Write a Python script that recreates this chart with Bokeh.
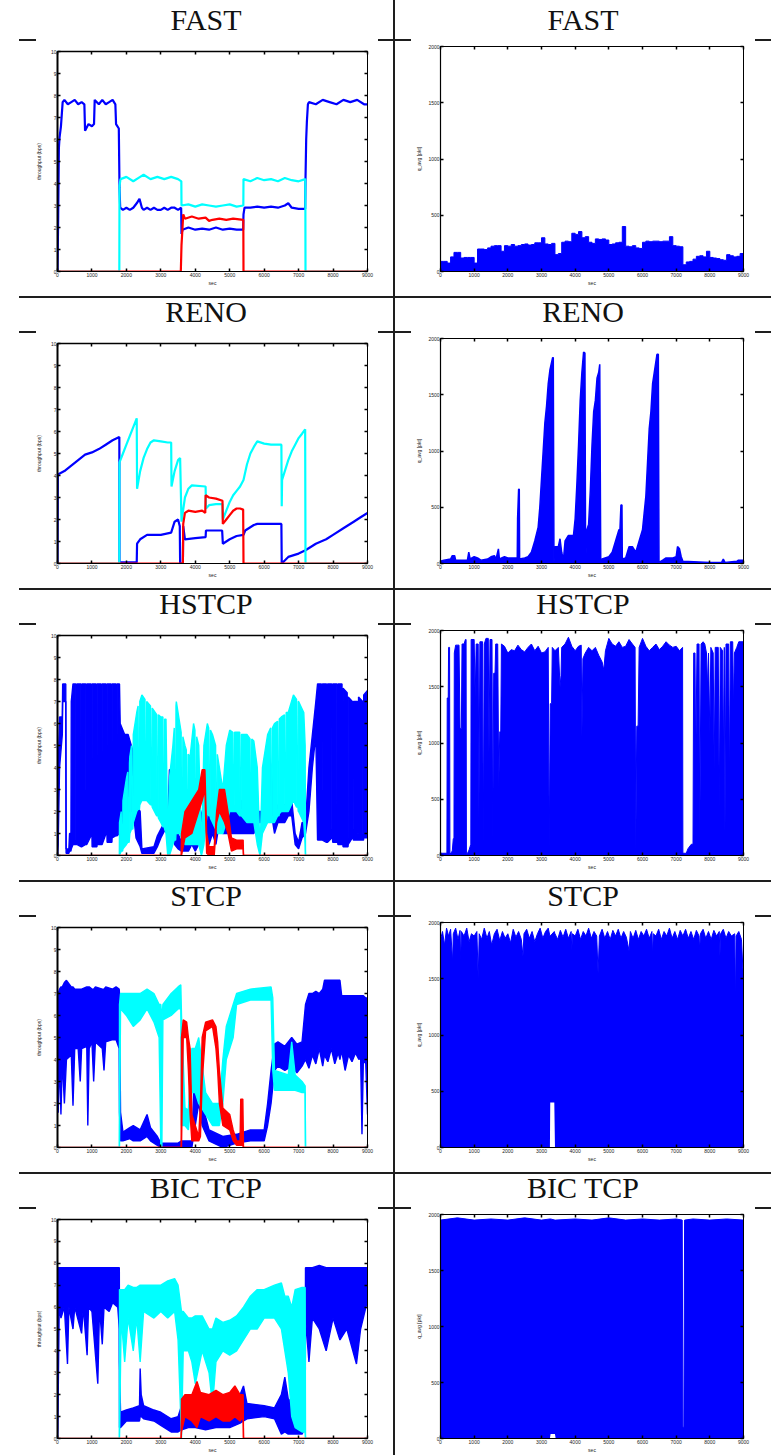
from bokeh.plotting import figure
from bokeh.layouts import row, column
from bokeh.models import Div, Spacer, LinearAxis, Range1d, FixedTicker, Label
from bokeh.embed import file_html
from bokeh.resources import INLINE

# ---------------- labels / ticks ----------------
TITLES = ["FAST", "RENO", "HSTCP", "STCP", "BIC TCP"]
X_TICKS = [0, 1000, 2000, 3000, 4000, 5000, 6000, 7000, 8000, 9000]
THR_TICKS = [0, 1, 2, 3, 4, 5, 6, 7, 8, 9, 10]
Q_TICKS = [0, 500, 1000, 1500, 2000]
THR_YLABEL = "throughput (bps)"
Q_YLABEL = "q_avg [pkt]"
X_LABEL = "sec"
THR_SCALE = "x 10\u2078"

# ---------------- FAST (t, value) ----------------
FAST_BLUE = [(0, 0.0), (20, 2.5), (40, 5.6), (60, 6.1), (100, 6.6), (150, 7.7), (200, 7.8), (300, 7.6), (400, 7.7),
             (500, 7.8), (600, 7.6), (700, 7.7), (780, 7.6), (800, 6.4), (900, 6.7), (1000, 6.6), (1060, 6.7),
             (1080, 7.8), (1200, 7.6), (1300, 7.8), (1400, 7.6), (1500, 7.7), (1600, 7.8), (1680, 7.6), (1700, 6.7),
             (1780, 6.5), (1800, 3.8), (1820, 2.9), (1900, 2.8), (2000, 2.9), (2100, 2.8), (2200, 2.9), (2300, 3.1),
             (2380, 3.3), (2450, 2.9), (2500, 2.8), (2600, 2.9), (2700, 2.8), (2800, 2.9), (2900, 2.8), (3000, 2.8),
             (3100, 2.9), (3200, 2.8), (3300, 2.9), (3400, 2.9), (3500, 2.8), (3590, 2.9), (3600, 1.7), (3630, 1.9),
             (3800, 2.0), (4000, 1.9), (4200, 1.95), (4400, 1.9), (4600, 2.0), (4800, 1.9), (5000, 1.95), (5200, 1.9),
             (5390, 1.9), (5400, 2.6), (5430, 2.9), (5600, 2.9), (5800, 2.95), (6000, 2.9), (6200, 2.95), (6400, 2.9),
             (6600, 3.0), (6700, 3.1), (6800, 2.9), (7000, 2.85), (7190, 2.85), (7200, 4.2), (7220, 6.0), (7240, 6.8),
             (7270, 7.6), (7300, 7.7), (7500, 7.6), (7700, 7.8), (7900, 7.7), (8100, 7.6), (8300, 7.8), (8500, 7.7),
             (8700, 7.8), (8900, 7.6), (9000, 7.6)]
FAST_CYAN = [(0, 0), (1795, 0), (1800, 3.9), (1830, 4.2), (2000, 4.3), (2200, 4.1), (2400, 4.3), (2500, 4.4),
             (2700, 4.2), (2900, 4.3), (3100, 4.2), (3300, 4.3), (3500, 4.2), (3595, 4.1), (3600, 3.0), (3800, 3.05),
             (4000, 2.95), (4200, 3.05), (4400, 3.0), (4600, 2.95), (4800, 3.0), (5000, 3.05), (5200, 2.95),
             (5395, 3.0), (5400, 4.2), (5600, 4.1), (5800, 4.25), (6000, 4.15), (6200, 4.2), (6400, 4.1), (6600, 4.25),
             (6800, 4.15), (7000, 4.1), (7195, 4.2), (7200, 0), (9000, 0)]
FAST_RED = [(0, 0), (3580, 0), (3600, 1.2), (3630, 2.0), (3650, 2.6), (3700, 2.4), (3900, 2.5), (4100, 2.4),
            (4300, 2.45), (4400, 2.3), (4500, 2.35), (4700, 2.4), (4900, 2.35), (5100, 2.4), (5395, 2.35), (5400, 0),
            (9000, 0)]
FAST_Q = [(0, 90), (100, 90), (200, 75), (300, 130), (400, 170), (500, 170), (600, 120), (700, 125), (800, 125),
          (900, 125), (1000, 75), (1100, 200), (1200, 200), (1300, 195), (1400, 210), (1500, 225), (1600, 230),
          (1700, 230), (1800, 180), (1900, 230), (2000, 225), (2100, 240), (2200, 225), (2300, 230), (2400, 240),
          (2500, 245), (2600, 235), (2700, 240), (2800, 255), (2900, 255), (3000, 300), (3100, 245), (3200, 240),
          (3300, 250), (3400, 150), (3500, 160), (3600, 260), (3700, 270), (3800, 265), (3900, 340), (4000, 330),
          (4100, 355), (4200, 300), (4300, 310), (4400, 260), (4500, 250), (4600, 290), (4700, 285), (4800, 290),
          (4900, 280), (5000, 240), (5100, 245), (5200, 255), (5300, 260), (5400, 400), (5500, 225), (5600, 220),
          (5700, 230), (5800, 210), (5900, 205), (6000, 260), (6100, 270), (6200, 265), (6300, 270), (6400, 270),
          (6500, 265), (6600, 270), (6700, 270), (6800, 310), (6900, 230), (7000, 225), (7100, 220), (7200, 60),
          (7300, 85), (7400, 90), (7500, 110), (7600, 135), (7700, 140), (7800, 130), (7900, 180), (8000, 125),
          (8100, 120), (8200, 115), (8300, 105), (8400, 100), (8500, 150), (8600, 140), (8700, 130), (8800, 135),
          (8900, 160), (9000, 140)]

# ---------------- RENO (t, value) ----------------
RENO_BLUE = [(0, 0), (10, 4.05), (200, 4.2), (400, 4.45), (600, 4.7), (800, 4.95), (1000, 5.05), (1200, 5.2),
             (1400, 5.4), (1600, 5.6), (1795, 5.75), (1800, 0.05), (2300, 0.05), (2310, 0.9), (2400, 1.1),
             (2600, 1.3), (3000, 1.3), (3300, 1.4), (3400, 1.9), (3500, 2.0), (3550, 1.7), (3560, 0.0), (3640, 0.0),
             (3650, 1.7), (3700, 1.1), (4000, 1.15), (4300, 1.2), (4310, 1.5), (4780, 1.5), (4800, 0.9), (5000, 1.1),
             (5200, 1.25), (5400, 1.3), (5450, 1.5), (5700, 1.75), (5800, 1.8), (6500, 1.8), (6510, 0.0), (6700, 0.3),
             (7000, 0.45), (7200, 0.6), (7500, 0.9), (7800, 1.1), (8000, 1.3), (8300, 1.6), (8600, 1.9), (8800, 2.1),
             (9000, 2.3)]
RENO_CYAN = [(0, 0), (1795, 0), (1800, 4.6), (1900, 5.0), (2000, 5.4), (2100, 5.8), (2200, 6.2), (2300, 6.6),
             (2310, 3.4), (2400, 4.2), (2500, 4.8), (2600, 5.2), (2700, 5.5), (2800, 5.6), (3000, 5.55), (3200, 5.5),
             (3300, 5.5), (3310, 3.5), (3400, 4.2), (3500, 4.7), (3560, 4.8), (3600, 1.9), (3700, 3.0), (3800, 3.4),
             (3900, 3.55), (4300, 3.5), (4310, 2.5), (4400, 2.65), (4600, 2.7), (4790, 2.7), (4800, 2.0), (4900, 2.4),
             (5000, 2.8), (5100, 3.1), (5200, 3.3), (5300, 3.5), (5400, 3.8), (5500, 4.5), (5600, 5.0), (5700, 5.3),
             (5800, 5.55), (6000, 5.45), (6200, 5.4), (6500, 5.4), (6510, 2.6), (6520, 3.8), (6600, 4.2), (6700, 4.7),
             (6800, 5.1), (6900, 5.4), (7000, 5.7), (7100, 5.9), (7190, 6.1), (7200, 0), (9000, 0)]
RENO_RED = [(0, 0), (3640, 0), (3650, 1.8), (3700, 2.3), (3800, 2.4), (4000, 2.35), (4200, 2.4), (4290, 2.3),
            (4300, 3.1), (4400, 3.0), (4600, 2.95), (4790, 2.85), (4800, 1.8), (4900, 2.0), (5000, 2.2), (5100, 2.4),
            (5200, 2.5), (5300, 2.5), (5390, 2.45), (5400, 0), (9000, 0)]
RENO_Q = [(0, 20), (100, 30), (300, 40), (350, 70), (420, 70), (450, 30), (800, 30), (840, 100), (880, 40), (1000, 60),
          (1100, 50), (1200, 30), (1400, 40), (1500, 60), (1600, 70), (1650, 40), (1720, 130), (1750, 40), (1900, 60),
          (2000, 50), (2280, 50), (2290, 400), (2320, 660), (2340, 660), (2350, 40), (2500, 50), (2600, 60),
          (2700, 100), (2800, 200), (2900, 320), (2950, 500), (3000, 750), (3050, 1000), (3100, 1250), (3150, 1400),
          (3200, 1600), (3250, 1720), (3330, 1830), (3350, 1830), (3370, 10), (3400, 150), (3500, 150), (3550, 220),
          (3600, 100), (3650, 30), (3700, 200), (3800, 250), (3950, 250), (4000, 400), (4050, 700), (4100, 1050),
          (4150, 1450), (4200, 1700), (4250, 1880), (4290, 1870), (4310, 0), (4350, 300), (4400, 350), (4450, 650),
          (4500, 1050), (4550, 1350), (4600, 1450), (4650, 1650), (4700, 1700), (4730, 1770), (4760, 0), (4800, 40),
          (5000, 60), (5100, 100), (5200, 200), (5300, 300), (5330, 300), (5360, 520), (5390, 520), (5400, 40),
          (5500, 50), (5600, 150), (5700, 150), (5800, 100), (5900, 200), (6000, 300), (6050, 450), (6100, 600),
          (6150, 900), (6200, 1200), (6250, 1350), (6300, 1600), (6350, 1700), (6430, 1860), (6470, 1860),
          (6490, 10), (6600, 30), (6700, 50), (6900, 50), (7000, 60), (7040, 150), (7100, 130), (7150, 60),
          (7200, 20), (8000, 10), (8350, 10), (8400, 40), (8450, 10), (8800, 20), (8850, 30), (9000, 30)]

# ---------------- HSTCP (t, low, high) ----------------
HSTCP_BLUE = [(0, 0, 0), (20, 0.5, 4.0), (60, 4.0, 6.3), (140, 5.5, 6.3), (150, 7.0, 7.8), (240, 7.0, 7.8),
              (250, 0.1, 0.3), (330, 0.1, 0.3), (350, 0.2, 1.0), (390, 0.2, 1.0), (400, 0.3, 7.0), (450, 0.5, 7.8),
              (530, 0.5, 7.8), (535, 0.5, 0.7), (555, 0.5, 0.7), (560, 0.5, 7.8), (680, 0.4, 7.8), (685, 0.4, 0.6),
              (705, 0.4, 0.6), (710, 0.4, 7.8), (820, 0.5, 7.8), (825, 0.5, 3.0), (845, 0.5, 3.0), (850, 0.5, 7.8),
              (975, 0.9, 7.8), (980, 0.9, 1.1), (1000, 0.9, 1.1), (1005, 0.4, 7.8), (1120, 0.4, 7.8),
              (1125, 0.4, 0.6), (1145, 0.4, 0.6), (1150, 0.5, 7.8), (1265, 0.5, 7.8), (1270, 0.5, 0.7),
              (1290, 0.5, 0.7), (1295, 0.5, 7.8), (1410, 1.0, 7.8), (1415, 1.0, 1.2), (1435, 1.0, 1.2),
              (1440, 0.6, 7.8), (1555, 0.6, 7.8), (1560, 0.6, 0.8), (1580, 0.6, 0.8), (1585, 0.8, 7.8),
              (1700, 0.9, 7.8), (1705, 0.9, 1.1), (1725, 0.9, 1.1), (1730, 0.9, 7.8), (1800, 1.0, 7.8),
              (1820, 1.0, 6.0), (1950, 1.5, 5.5), (2050, 2.0, 5.5), (2200, 2.0, 4.7), (2280, 0.8, 2.4),
              (2400, 0.4, 2.0), (2450, 0.1, 0.3), (2800, 0.1, 0.4), (2900, 0.4, 0.9), (3000, 0.8, 1.2),
              (3100, 1.1, 1.5), (3200, 1.2, 1.6), (3250, 2.5, 3.9), (3350, 2.5, 3.9), (3400, 0.5, 3.0),
              (3500, 0.3, 1.0), (3600, 0.2, 0.6), (3800, 0.2, 0.6), (3900, 0.5, 1.0), (4000, 0.2, 0.8),
              (4100, 0.5, 1.5), (4200, 1.0, 2.0), (4300, 1.5, 2.5), (4400, 0.5, 2.0), (4500, 1.0, 2.5),
              (4600, 0.5, 2.0), (4700, 1.5, 3.3), (4800, 1.0, 3.0), (4900, 1.0, 2.0), (5200, 1.0, 2.0),
              (5300, 1.0, 2.5), (5700, 1.0, 2.3), (5800, 1.5, 2.0), (6000, 1.5, 2.0), (6050, 4.0, 4.6),
              (6150, 3.0, 4.6), (6200, 2.0, 4.0), (6300, 1.0, 2.0), (6400, 1.5, 2.3), (6600, 1.5, 2.3),
              (6700, 1.8, 2.5), (6800, 1.8, 2.5), (6900, 0.5, 1.0), (7000, 0.3, 0.6), (7100, 0.8, 1.5),
              (7200, 1.0, 1.5), (7300, 2.0, 4.0), (7400, 4.0, 5.5), (7500, 5.5, 7.0), (7550, 0.7, 7.8),
              (7660, 0.7, 7.8), (7665, 0.7, 3.0), (7685, 0.7, 3.0), (7690, 0.7, 7.8), (7810, 0.6, 7.8),
              (7815, 0.6, 0.9), (7835, 0.6, 0.9), (7840, 0.6, 7.8), (7960, 0.8, 7.8), (7965, 0.8, 1.2),
              (7985, 0.8, 1.2), (7990, 0.6, 7.8), (8110, 0.6, 7.8), (8115, 0.6, 0.8), (8135, 0.6, 0.8),
              (8140, 0.5, 7.8), (8260, 0.5, 7.8), (8265, 0.5, 0.9), (8285, 0.5, 0.9), (8290, 0.4, 7.6),
              (8410, 0.4, 7.4), (8415, 0.4, 0.8), (8435, 0.4, 0.8), (8440, 0.5, 7.2), (8560, 0.8, 7.0),
              (8565, 0.8, 1.2), (8585, 0.8, 1.2), (8590, 0.7, 7.0), (8710, 0.7, 7.0), (8715, 0.7, 1.0),
              (8735, 0.7, 1.0), (8740, 0.7, 7.2), (8860, 0.7, 7.0), (8865, 0.7, 1.0), (8885, 0.7, 1.0),
              (8890, 0.8, 7.3), (9000, 0.8, 7.5)]
HSTCP_CYAN = [(0, 0, 0), (1795, 0, 0), (1800, 0, 1.5), (1850, 0.2, 2.0), (1860, 0.2, 0.4), (1890, 0.2, 0.4),
              (1900, 0.3, 2.5), (2000, 0.5, 3.5), (2040, 0.6, 3.8), (2050, 0.6, 0.9), (2080, 0.6, 0.9),
              (2090, 0.8, 4.2), (2100, 1.0, 4.5), (2150, 1.2, 5.0), (2160, 1.2, 1.5), (2190, 1.2, 1.5),
              (2200, 1.5, 5.5), (2300, 2.0, 6.5), (2340, 2.1, 6.8), (2350, 2.1, 2.4), (2380, 2.1, 2.4),
              (2390, 2.3, 7.0), (2450, 2.5, 7.3), (2540, 2.5, 7.1), (2550, 2.5, 2.8), (2580, 2.5, 2.8),
              (2590, 2.5, 7.0), (2700, 2.3, 6.8), (2710, 2.3, 2.6), (2740, 2.3, 2.6), (2750, 2.2, 6.7),
              (2880, 1.8, 6.4), (2890, 1.8, 2.1), (2920, 1.8, 2.1), (2930, 1.7, 6.4), (3000, 1.5, 6.3),
              (3060, 1.3, 6.3), (3070, 1.3, 1.6), (3100, 1.3, 1.6), (3110, 1.2, 6.2), (3150, 1.0, 6.2),
              (3200, 0, 0.5), (3250, 0, 3.5), (3350, 0.5, 5.0), (3390, 0.7, 5.8), (3400, 0.7, 1.0), (3430, 0.7, 1.0),
              (3440, 1.0, 6.8), (3450, 1.0, 7.0), (3550, 1.0, 6.0), (3590, 0.8, 5.6), (3600, 0.8, 1.1),
              (3630, 0.8, 1.1), (3640, 0.7, 5.4), (3700, 0.5, 5.0), (3740, 0.5, 4.8), (3750, 0.5, 0.8),
              (3780, 0.5, 0.8), (3790, 0.5, 4.6), (3850, 0.5, 4.5), (3950, 0.5, 6.0), (3990, 0.5, 5.7),
              (4000, 0.5, 0.8), (4030, 0.5, 0.8), (4040, 0.5, 5.4), (4100, 0.5, 5.0), (4180, 0, 0.2),
              (4250, 0.5, 5.0), (4350, 2.0, 6.0), (4390, 1.8, 5.8), (4400, 1.8, 2.1), (4430, 1.8, 2.1),
              (4440, 1.7, 5.7), (4500, 1.5, 5.5), (4590, 1.2, 5.0), (4600, 1.2, 1.5), (4630, 1.2, 1.5),
              (4640, 1.1, 4.6), (4650, 1.0, 4.5), (4800, 1.0, 3.0), (4900, 1.5, 5.0), (5000, 2.0, 5.7),
              (5090, 2.0, 5.6), (5100, 2.0, 2.3), (5130, 2.0, 2.3), (5140, 2.0, 5.6), (5200, 2.0, 5.6),
              (5290, 1.8, 5.6), (5300, 1.8, 2.1), (5330, 1.8, 2.1), (5340, 1.8, 5.5), (5500, 1.5, 5.5),
              (5590, 1.5, 5.3), (5600, 1.5, 1.8), (5630, 1.5, 1.8), (5640, 1.5, 5.3), (5700, 1.5, 5.2),
              (5800, 0.5, 4.0), (5880, 0, 0.2), (5950, 1.0, 4.0), (6100, 1.5, 5.5), (6190, 1.5, 5.8),
              (6200, 1.5, 1.8), (6230, 1.5, 1.8), (6240, 1.5, 5.8), (6300, 1.5, 6.0), (6390, 1.8, 6.1),
              (6400, 1.8, 2.1), (6430, 1.8, 2.1), (6440, 1.9, 6.2), (6500, 2.0, 6.3), (6590, 2.0, 6.4),
              (6600, 2.0, 2.3), (6630, 2.0, 2.3), (6640, 2.0, 6.5), (6700, 2.0, 6.5), (6850, 2.5, 7.3),
              (6940, 2.2, 7.1), (6950, 2.2, 2.5), (6980, 2.2, 2.5), (6990, 2.0, 7.0), (7000, 2.0, 7.0),
              (7150, 1.5, 6.5), (7190, 0.5, 5.0), (7200, 0, 0), (9000, 0, 0)]
HSTCP_RED = [(0, 0, 0), (3590, 0, 0), (3600, 0, 1.0), (3700, 0.8, 2.0), (3900, 1.0, 2.5), (4100, 2.0, 3.0),
             (4200, 2.5, 3.9), (4280, 3.0, 3.9), (4330, 0.1, 1.0), (4400, 0, 0.4), (4550, 0, 0.4), (4620, 1.5, 2.0),
             (4700, 2.0, 3.0), (4850, 1.5, 3.0), (4950, 1.0, 2.0), (5050, 0.2, 0.8), (5200, 0.3, 0.7),
             (5390, 0.3, 0.7), (5400, 0, 0), (9000, 0, 0)]
HSTCP_Q = [(0, 0, 20), (190, 0, 20), (200, 0, 1400), (230, 0, 1400), (240, 0, 1850), (270, 0, 1850), (280, 0, 10),
           (350, 0, 40), (380, 0, 150), (400, 0, 150), (410, 0, 1800), (450, 0, 1870), (550, 0, 1870),
           (580, 0, 1130), (620, 0, 1130), (640, 0, 1880), (700, 0, 1880), (740, 0, 1920), (760, 0, 1920),
           (770, 0, 0), (850, 0, 50), (900, 0, 100), (910, 0, 1920), (1000, 0, 1920), (1030, 0, 1400),
           (1060, 0, 1880), (1120, 0, 1880), (1140, 0, 320), (1170, 0, 1900), (1250, 0, 1900), (1270, 0, 70),
           (1300, 0, 1880), (1350, 0, 1930), (1420, 0, 1930), (1440, 0, 900), (1470, 0, 1920), (1530, 0, 1920),
           (1550, 0, 60), (1580, 0, 1620), (1620, 0, 1620), (1640, 0, 1880), (1700, 0, 1880), (1730, 0, 600),
           (1760, 0, 1100), (1790, 0, 1100), (1810, 0, 1880), (1900, 0, 1860), (2000, 0, 1800), (2100, 0, 1830),
           (2200, 0, 1820), (2300, 0, 1870), (2400, 0, 1830), (2500, 0, 1810), (2600, 0, 1850), (2700, 0, 1880),
           (2800, 0, 1820), (2900, 0, 1860), (3000, 0, 1800), (3100, 0, 1810), (3200, 0, 1850), (3230, 0, 50),
           (3260, 0, 1350), (3300, 0, 1350), (3320, 0, 1850), (3400, 0, 1820), (3500, 0, 1850), (3550, 0, 1500),
           (3580, 0, 1600), (3600, 0, 1850), (3700, 0, 1880), (3800, 0, 1940), (3900, 0, 1860), (4000, 0, 1820),
           (4100, 0, 1860), (4180, 0, 1870), (4200, 0, 1050), (4230, 0, 1750), (4300, 0, 1800), (4400, 0, 1850),
           (4500, 0, 1820), (4600, 0, 1850), (4700, 0, 1780), (4800, 0, 1720), (4850, 0, 1650), (4900, 0, 1820),
           (5000, 0, 1930), (5100, 0, 1880), (5200, 0, 1860), (5300, 0, 1900), (5400, 0, 1850), (5500, 0, 1860),
           (5600, 0, 1920), (5700, 0, 1880), (5780, 0, 1850), (5800, 0, 20), (5830, 0, 1150), (5870, 0, 1150),
           (5900, 0, 1850), (6000, 0, 1930), (6100, 0, 1860), (6200, 0, 1820), (6300, 0, 1850), (6400, 0, 1880),
           (6500, 0, 1830), (6600, 0, 1860), (6700, 0, 1900), (6800, 0, 1870), (6900, 0, 1850), (7000, 0, 1860),
           (7100, 0, 1820), (7190, 0, 1850), (7200, 0, 20), (7300, 0, 20), (7350, 0, 60), (7450, 0, 100),
           (7500, 0, 100), (7520, 0, 1800), (7560, 0, 1800), (7580, 0, 800), (7620, 0, 1880), (7680, 0, 1880),
           (7700, 0, 100), (7740, 0, 1880), (7800, 0, 1900), (7850, 0, 1880), (7900, 0, 1800), (7930, 0, 1500),
           (7960, 0, 1800), (8000, 0, 1080), (8030, 0, 1850), (8100, 0, 1800), (8130, 0, 750), (8160, 0, 1850),
           (8250, 0, 1850), (8280, 0, 400), (8310, 0, 1850), (8380, 0, 1820), (8400, 0, 800), (8430, 0, 1850),
           (8450, 0, 200), (8480, 0, 1880), (8560, 0, 1880), (8580, 0, 600), (8610, 0, 1900), (8680, 0, 1900),
           (8700, 0, 1300), (8730, 0, 1800), (8800, 0, 1850), (8860, 0, 1900), (9000, 0, 1900)]

# ---------------- STCP (t, low, high) ----------------
STCP_BLUE = [(0, 1.6, 1.6), (20, 1.6, 7.0), (60, 4.0, 7.2), (100, 1.5, 7.3), (140, 4.0, 7.3), (200, 2.0, 7.5),
             (260, 4.0, 7.6), (400, 4.2, 7.3), (450, 1.9, 7.3), (500, 4.5, 7.2), (600, 4.5, 7.2), (660, 3.0, 7.2),
             (700, 4.5, 7.2), (850, 4.6, 7.3), (880, 1.0, 7.3), (920, 4.5, 7.3), (1000, 4.8, 7.2), (1050, 3.0, 7.2),
             (1100, 4.8, 7.3), (1300, 4.5, 7.2), (1350, 3.5, 7.2), (1400, 4.8, 7.3), (1600, 4.9, 7.2),
             (1700, 4.9, 7.3), (1790, 4.5, 7.2), (1800, 1.6, 7.0), (1830, 0.3, 1.6), (1900, 0.3, 0.7),
             (2100, 0.4, 0.9), (2200, 0.3, 1.0), (2400, 0.3, 0.8), (2600, 0.5, 1.5), (2700, 0.3, 0.9),
             (2900, 0.1, 0.5), (3000, 0.0, 0.2), (3500, 0.0, 0.2), (3600, 0.0, 0.3), (3900, 0.0, 0.3),
             (4000, 1.0, 4.4), (4100, 2.0, 4.5), (4200, 1.0, 2.0), (4400, 0.3, 0.8), (4800, 0.0, 0.5),
             (5200, 0.2, 0.6), (5600, 0.3, 0.8), (6000, 0.3, 0.8), (6100, 1.0, 2.0), (6200, 2.0, 3.5),
             (6300, 3.5, 4.7), (6400, 3.7, 4.8), (6600, 3.5, 4.6), (6800, 3.7, 5.0), (6950, 3.4, 4.7),
             (7100, 3.7, 4.8), (7200, 4.0, 6.5), (7300, 3.6, 7.0), (7400, 4.2, 7.0), (7500, 3.8, 7.1),
             (7600, 4.5, 7.0), (7700, 3.7, 7.2), (7750, 4.2, 7.6), (7850, 3.9, 7.6), (7950, 4.5, 7.6),
             (8050, 3.8, 7.6), (8150, 4.3, 7.6), (8200, 4.0, 7.6), (8250, 4.4, 6.9), (8350, 3.5, 6.9),
             (8450, 4.2, 6.9), (8550, 3.9, 6.9), (8650, 4.3, 6.9), (8750, 4.0, 6.9), (8800, 4.1, 6.9),
             (8840, 0.6, 6.9), (8880, 4.0, 6.9), (8950, 3.8, 6.8), (9000, 1.5, 6.8)]
STCP_CYAN = [(0, 0, 0), (1795, 0, 0), (1800, 0, 6.5), (1830, 6.3, 7.0), (2000, 6.0, 7.0), (2200, 5.5, 7.0),
             (2400, 5.8, 7.0), (2600, 6.3, 7.2), (2800, 5.7, 7.0), (2950, 5.0, 6.5), (3000, 0, 6.5), (3030, 0, 5.8),
             (3060, 5.8, 6.5), (3300, 6.0, 7.0), (3500, 6.3, 7.3), (3580, 6.3, 7.4), (3600, 1.0, 6.0),
             (3700, 1.0, 1.8), (3800, 0.8, 1.7), (3900, 2.5, 4.5), (4000, 2.5, 4.5), (4100, 2.0, 5.0),
             (4300, 1.5, 2.5), (4500, 1.0, 2.0), (4700, 1.0, 2.0), (4800, 2.0, 4.0), (4900, 4.0, 5.5),
             (5100, 5.0, 6.5), (5200, 6.5, 7.0), (5600, 6.7, 7.2), (6200, 6.7, 7.3), (6250, 3.5, 6.8),
             (6300, 2.6, 3.5), (6700, 2.6, 3.3), (6800, 2.6, 4.8), (6900, 2.6, 3.3), (7100, 2.5, 3.0),
             (7190, 2.5, 2.8), (7200, 0, 0), (9000, 0, 0)]
STCP_RED = [(0, 0, 0), (3590, 0, 0), (3600, 0, 5.0), (3650, 5.0, 5.8), (3750, 5.0, 5.7), (3800, 3.5, 5.0),
            (3850, 1.5, 4.5), (3900, 0.3, 1.5), (4100, 0.3, 0.5), (4150, 0.5, 2.0), (4200, 3.0, 5.0),
            (4300, 5.3, 5.7), (4500, 5.5, 5.8), (4600, 4.5, 5.5), (4650, 3.5, 4.8), (4700, 2.0, 3.5),
            (4800, 1.0, 1.8), (5000, 0.8, 1.5), (5100, 0.3, 0.8), (5200, 0.1, 0.3), (5300, 0.1, 0.3),
            (5320, 0.1, 2.2), (5380, 0.1, 2.2), (5400, 0, 0), (9000, 0, 0)]
STCP_Q = [(0, 0, 1850), (60, 0, 1920), (120, 0, 1800), (180, 0, 1950), (240, 0, 1880), (300, 0, 1940), (360, 0, 1650),
          (380, 0, 1900), (450, 0, 1950), (520, 0, 1850), (580, 0, 1930), (600, 0, 1650), (620, 0, 1920),
          (700, 0, 1880), (780, 0, 1950), (850, 0, 1830), (920, 0, 1900), (1000, 0, 1880), (1080, 0, 1920),
          (1120, 0, 1500), (1150, 0, 1900), (1220, 0, 1850), (1300, 0, 1950), (1380, 0, 1860), (1450, 0, 1920),
          (1520, 0, 1800), (1600, 0, 1900), (1680, 0, 1940), (1760, 0, 1840), (1840, 0, 1920), (1920, 0, 1860),
          (2000, 0, 1900), (2080, 0, 1820), (2160, 0, 1940), (2240, 0, 1870), (2320, 0, 1920), (2400, 0, 1850),
          (2450, 0, 1700), (2480, 0, 1900), (2560, 0, 1940), (2640, 0, 1860), (2720, 0, 1920), (2800, 0, 1830),
          (2880, 0, 1900), (2960, 0, 1950), (3040, 0, 1860), (3120, 0, 1920), (3200, 0, 1950), (3250, 0, 1880),
          (3260, 400, 1880), (3380, 400, 1920), (3400, 0, 1900), (3480, 0, 1850), (3560, 0, 1930), (3640, 0, 1870),
          (3720, 0, 1940), (3800, 0, 1860), (3880, 0, 1920), (3900, 0, 1750), (3920, 0, 1900), (4000, 0, 1880),
          (4080, 0, 1940), (4160, 0, 1850), (4240, 0, 1920), (4320, 0, 1880), (4400, 0, 1950), (4480, 0, 1860),
          (4560, 0, 1920), (4640, 0, 1880), (4680, 0, 1550), (4720, 0, 1880), (4800, 0, 1940), (4880, 0, 1860),
          (4960, 0, 1920), (5040, 0, 1850), (5120, 0, 1930), (5200, 0, 1880), (5280, 0, 1940), (5360, 0, 1860),
          (5440, 0, 1920), (5520, 0, 1870), (5600, 0, 1750), (5640, 0, 1920), (5720, 0, 1860), (5800, 0, 1930),
          (5880, 0, 1850), (5960, 0, 1920), (6040, 0, 1880), (6120, 0, 1940), (6200, 0, 1860), (6280, 0, 1920),
          (6300, 0, 1700), (6320, 0, 1900), (6400, 0, 1880), (6480, 0, 1940), (6560, 0, 1850), (6640, 0, 1920),
          (6720, 0, 1880), (6800, 0, 1950), (6880, 0, 1860), (6960, 0, 1920), (7040, 0, 1850), (7120, 0, 1930),
          (7200, 0, 1880), (7280, 0, 1940), (7360, 0, 1860), (7440, 0, 1920), (7520, 0, 1850), (7600, 0, 1930),
          (7680, 0, 1880), (7700, 0, 1750), (7720, 0, 1900), (7800, 0, 1940), (7880, 0, 1860), (7960, 0, 1920),
          (8040, 0, 1850), (8120, 0, 1930), (8200, 0, 1880), (8280, 0, 1920), (8300, 0, 1700), (8320, 0, 1900),
          (8400, 0, 1940), (8480, 0, 1860), (8560, 0, 1920), (8640, 0, 1880), (8740, 0, 1900), (8760, 0, 1250),
          (8780, 0, 1880), (8860, 0, 1920), (8940, 0, 1850), (8980, 0, 1600), (9000, 0, 1500)]

# ---------------- BIC TCP (t, low, high) ----------------
BIC_BLUE = [(0, 0, 0), (10, 0.5, 7.8), (50, 6.0, 7.8), (100, 5.5, 7.8), (200, 6.0, 7.8), (290, 3.4, 7.8),
            (330, 6.0, 7.8), (450, 5.0, 7.8), (500, 6.0, 7.8), (700, 4.8, 7.8), (750, 6.0, 7.8), (860, 3.8, 7.8),
            (900, 6.0, 7.8), (1000, 5.8, 7.8), (1170, 2.5, 7.8), (1220, 6.0, 7.8), (1300, 4.3, 7.8),
            (1350, 6.0, 7.8), (1500, 5.8, 7.8), (1600, 6.2, 7.8), (1750, 6.0, 7.8), (1795, 5.0, 7.8),
            (1800, 0.5, 3.5), (1830, 0.5, 1.2), (2000, 0.8, 1.3), (2200, 0.8, 1.4), (2380, 0.8, 1.5),
            (2400, 1.0, 3.2), (2430, 1.0, 2.0), (2500, 0.9, 1.5), (2800, 0.8, 1.3), (3000, 0.6, 1.2),
            (3300, 0.3, 0.9), (3500, 0.3, 1.0), (3600, 0.4, 1.5), (3800, 0.5, 1.8), (4000, 0.5, 2.0),
            (4300, 0.4, 1.8), (4600, 0.5, 2.0), (5000, 0.5, 1.6), (5300, 0.7, 2.0), (5400, 0.8, 2.4),
            (5500, 0.9, 1.6), (6000, 1.0, 1.5), (6300, 0.9, 1.4), (6500, 0.2, 2.0), (6600, 0.3, 2.8),
            (6700, 0.2, 1.8), (6900, 0.2, 1.5), (7100, 0.2, 2.0), (7190, 0.5, 1.0), (7200, 5.5, 7.8),
            (7300, 3.5, 7.8), (7400, 5.5, 7.8), (7600, 5.0, 7.9), (7800, 4.0, 7.8), (8000, 5.5, 7.8),
            (8200, 4.5, 7.8), (8400, 5.0, 7.8), (8680, 3.4, 7.8), (8800, 5.0, 7.8), (9000, 6.3, 7.8)]
BIC_CYAN = [(0, 0, 0), (1795, 0, 0), (1800, 0, 6.8), (1850, 5.5, 6.8), (1950, 3.5, 6.8), (2050, 5.5, 7.0),
            (2200, 4.0, 6.9), (2300, 5.5, 6.9), (2400, 3.5, 7.0), (2500, 5.8, 7.0), (2800, 5.5, 7.0),
            (3000, 5.8, 7.0), (3200, 5.5, 7.2), (3400, 5.8, 7.3), (3500, 4.5, 7.0), (3600, 0, 5.8),
            (3650, 4.0, 5.8), (3800, 4.0, 5.5), (3900, 3.5, 5.5), (4000, 2.5, 5.6), (4200, 4.0, 5.6),
            (4400, 3.0, 5.0), (4500, 1.5, 5.0), (4600, 3.5, 5.5), (4800, 4.0, 5.3), (5000, 3.8, 5.4),
            (5200, 4.0, 5.6), (5400, 4.5, 6.0), (5600, 5.0, 6.5), (5800, 5.0, 6.8), (6000, 5.5, 6.8),
            (6300, 5.5, 7.0), (6500, 5.0, 7.1), (6600, 4.0, 6.5), (6700, 3.0, 6.5), (6800, 1.0, 6.0),
            (6900, 0.5, 6.8), (7100, 0.3, 6.9), (7190, 0.3, 6.9), (7200, 0, 0), (9000, 0, 0)]
BIC_RED = [(0, 0, 0), (3590, 0, 0), (3600, 0.3, 1.8), (3700, 1.0, 2.0), (3900, 0.8, 2.0), (4050, 0.5, 2.6),
           (4150, 1.0, 2.1), (4400, 0.8, 2.0), (4600, 1.0, 2.2), (4800, 0.8, 2.0), (5000, 0.8, 2.1),
           (5150, 1.0, 2.4), (5300, 0.8, 2.0), (5390, 1.0, 2.0), (5400, 0, 0), (9000, 0, 0)]
BIC_Q = [(0, 0, 1950), (500, 0, 1970), (1000, 0, 1950), (1500, 0, 1960), (2000, 0, 1950), (2500, 0, 1970),
         (3000, 0, 1950), (3250, 0, 1960), (3270, 40, 1960), (3400, 40, 1950), (3420, 0, 1950), (4000, 0, 1960),
         (4500, 0, 1950), (5000, 0, 1970), (5500, 0, 1950), (6000, 0, 1960), (6500, 0, 1950), (7000, 0, 1960),
         (7180, 0, 1950), (7200, 0, 100), (7230, 0, 100), (7250, 0, 1950), (7500, 0, 1960), (8000, 0, 1950),
         (8500, 0, 1960), (9000, 0, 1950)]

THR_DATA = [
    ("line", [FAST_BLUE, FAST_CYAN, FAST_RED]),
    ("line", [RENO_BLUE, RENO_CYAN, RENO_RED]),
    ("band", [HSTCP_BLUE, HSTCP_CYAN, HSTCP_RED]),
    ("band", [STCP_BLUE, STCP_CYAN, STCP_RED]),
    ("band", [BIC_BLUE, BIC_CYAN, BIC_RED]),
]
Q_DATA = [("step", FAST_Q), ("area", RENO_Q), ("band", HSTCP_Q), ("band", STCP_Q), ("band", BIC_Q)]

# ---------------- styling ----------------
BLUE, CYAN, RED = "#0000ff", "#00ffff", "#ff0000"
COLORS = [BLUE, CYAN, RED]
RULE = "#1e1e1e"
TICK_FONT = "5px"


def cols(rows):
    return [list(c) for c in zip(*rows)]


def bar(w, h):
    return Div(text="", width=w, height=h, margin=(0, 0, 0, 0), styles={"background-color": RULE})


def gap(w, h):
    return Spacer(width=w, height=h, margin=(0, 0, 0, 0))


def style_axis(ax, ticks, label=None, show_labels=True, lw=1.0, lab_standoff=2):
    ax.ticker = FixedTicker(ticks=ticks)
    ax.major_tick_in = 3
    ax.major_tick_out = 0
    ax.minor_tick_in = 0
    ax.minor_tick_out = 0
    ax.major_tick_line_width = 1.5
    ax.axis_line_width = lw
    ax.axis_line_color = "black"
    ax.major_tick_line_color = "black"
    if show_labels:
        ax.major_label_text_font_size = TICK_FONT
        ax.major_label_text_color = "#222222"
        ax.major_label_standoff = 1
        ax.major_label_text_font = "Liberation Sans"
    else:
        ax.major_label_text_font_size = "1px"
        ax.major_label_text_color = None
        ax.major_label_standoff = 0
    if label:
        ax.axis_label = label
        ax.axis_label_text_font_size = TICK_FONT
        ax.axis_label_text_font_style = "normal"
        ax.axis_label_text_font = "Liberation Sans"
        ax.axis_label_text_color = "#222222"
        ax.axis_label_standoff = lab_standoff


# cell geometry (page pixels; the Bokeh page has no body margin)
LEFT_W, RIGHT_W, VLINE_W = 393, 382, 2


def make_fig(kind, height):
    if kind == "thr":
        w, top, fh, left, right, yr, yt, ylab = LEFT_W, 10, 220, 57, 26, (0, 10), THR_TICKS, THR_YLABEL
    else:
        w, top, fh, left, right, yr, yt, ylab = RIGHT_W, 5, 225, 45, 34, (0, 2000), Q_TICKS, Q_YLABEL
    p = figure(width=w, height=height, x_range=Range1d(0, 9000), y_range=Range1d(*yr),
               output_backend="svg", toolbar_location=None, margin=(0, 0, 0, 0),
               min_border_left=left, min_border_right=right, min_border_top=top,
               min_border_bottom=height - top - fh)
    p.xgrid.visible = False
    p.ygrid.visible = False
    p.outline_line_color = "black"
    p.outline_line_width = 1
    p.background_fill_color = "white"
    p.border_fill_color = "white"
    style_axis(p.xaxis[0], X_TICKS, X_LABEL, lw=1.2, lab_standoff=0)
    style_axis(p.yaxis[0], yt, ylab, lw=2.0 if kind == "thr" else 1.2, lab_standoff=6 if kind == "thr" else 3)
    ax_top = LinearAxis()
    style_axis(ax_top, X_TICKS, show_labels=False, lw=1.5 if kind == "thr" else 1.0)
    p.add_layout(ax_top, "above")
    ax_right = LinearAxis()
    style_axis(ax_right, yt, show_labels=False, lw=1.0)
    p.add_layout(ax_right, "right")
    return p


def draw_thr(p, mode, series):
    for data, color in zip(series, COLORS):
        if mode == "line":
            t, v = cols(data)
            p.line(t, v, line_color=color, line_width=2.2)
        else:
            t, lo, hi = cols(data)
            p.varea(x=t, y1=lo, y2=hi, fill_color=color)
            p.line(t, hi, line_color=color, line_width=1.4)
            p.line(t, lo, line_color=color, line_width=1.4)
    p.add_layout(Label(x=0, y=10, x_offset=3, y_offset=1, text=THR_SCALE, text_font_size="5px",
                       text_baseline="bottom", text_color="#222222", text_font="Liberation Sans"))


def draw_q(p, mode, data):
    if mode == "step":
        t, q = cols(data)
        p.varea_step(x=t, y1=[0] * len(t), y2=q, step_mode="after", fill_color=BLUE)
        p.step(t, q, mode="after", line_color=BLUE, line_width=1)
    elif mode == "area":
        t, q = cols(data)
        p.varea(x=t, y1=[0] * len(t), y2=q, fill_color=BLUE)
        p.line(t, q, line_color=BLUE, line_width=1.5)
    else:
        t, lo, hi = cols(data)
        p.varea(x=t, y1=lo, y2=hi, fill_color=BLUE)
        p.line(t, hi, line_color=BLUE, line_width=1)


def title_div(text, width, height, lh, pad_left, pad_right):
    html = ('<div style="box-sizing:border-box;width:%dpx;height:%dpx;padding-left:%dpx;padding-right:%dpx;'
            'text-align:center;font-family:\'Liberation Serif\',\'Times New Roman\',serif;font-size:30px;'
            'line-height:%dpx;color:#111111;white-space:nowrap">%s</div>') % (width, height, pad_left, pad_right, lh, text)
    return Div(text=html, width=width, height=height, margin=(0, 0, 0, 0))


def dash_row(width, segs):
    kids = []
    pos = 0
    for start, length in segs:
        if start > pos:
            kids.append(gap(start - pos, 2))
        kids.append(bar(length, 2))
        pos = start + length
    if pos < width:
        kids.append(gap(width - pos, 2))
    return row(*kids, spacing=0)


ROW_HEIGHTS = [296, 290, 290, 290, 281]
TITLE_H = [39, 33, 33, 33, 33]
TITLE_LH = [39, 28, 28, 28, 28]
rows = []
for i, title in enumerate(TITLES):
    rh = ROW_HEIGHTS[i]
    th = TITLE_H[i]
    fig_h = rh - th - 2
    pl = make_fig("thr", fig_h)
    draw_thr(pl, *THR_DATA[i])
    pr = make_fig("q", fig_h)
    draw_q(pr, *Q_DATA[i])
    left_cell = column(title_div(title, LEFT_W, th, TITLE_LH[i], 19, 0),
                       dash_row(LEFT_W, [(19, 17), (378, 15)]), pl, spacing=0)
    right_cell = column(title_div(title, RIGHT_W, th, TITLE_LH[i], 0, 6),
                        dash_row(RIGHT_W, [(0, 16), (360, 16)]), pr, spacing=0)
    rows.append(row(left_cell, bar(VLINE_W, rh), right_cell, spacing=0))
    if i < len(TITLES) - 1:
        rows.append(row(gap(19, 2), bar(752, 2), gap(6, 2), spacing=0))

page = column(*rows, spacing=0)
open("out.html", "w").write(file_html(page, INLINE, title="TCP variants"))
